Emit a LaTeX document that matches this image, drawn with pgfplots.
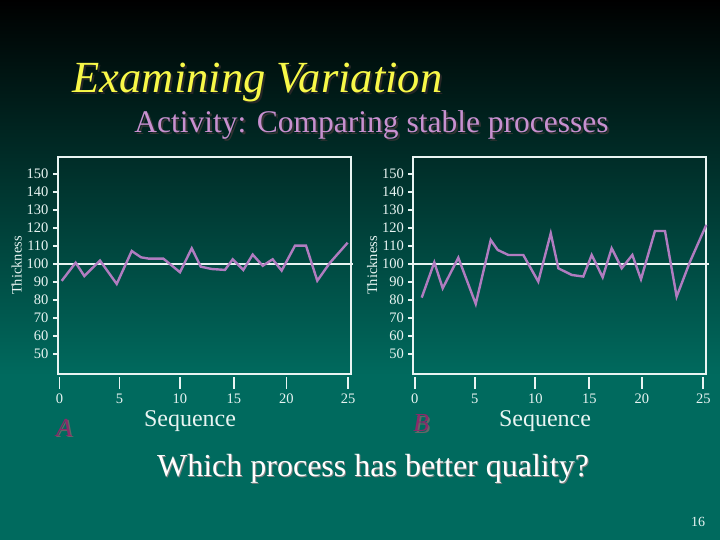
\documentclass[border=0pt]{standalone}
\usepackage{pgfplots}
\pgfplotsset{compat=1.18}
\usepackage{fontspec}
\setmainfont{Liberation Serif}
\definecolor{bgteal}{HTML}{006A5E}
\definecolor{lineP}{HTML}{B07CC0}
\definecolor{subP}{HTML}{C890D0}
\definecolor{titleY}{HTML}{F8F848}
\definecolor{magA}{HTML}{8A2A6A}
\definecolor{boxW}{HTML}{E8F4F2}

\pgfplotstableread{
x y
0.19 90.6
1.40 100.7
2.15 93.3
3.51 101.9
4.96 88.9
6.26 107.2
7.06 103.7
7.70 103.0
8.99 103.0
10.44 95.4
11.46 108.7
12.24 98.5
13.19 97.2
14.34 96.7
15.01 102.6
15.93 96.7
16.74 105.2
17.61 99.0
18.47 102.6
19.25 96.3
20.41 110.2
21.36 110.2
22.34 90.7
23.44 100.7
24.97 111.8
}\dataA

\pgfplotstableread{
x y
0.60 81.3
1.69 100.9
2.42 86.5
3.77 103.5
5.28 77.8
6.58 113.3
7.18 107.8
8.10 105.0
9.40 105.0
10.70 90.2
11.78 117.0
12.44 97.6
13.60 93.9
14.60 93.0
15.33 105.0
16.28 92.6
17.06 108.7
17.93 97.6
18.85 105.0
19.60 91.5
20.81 118.3
21.68 118.3
22.69 81.9
23.85 101.3
25.26 121.7
}\dataB

\pgfplotsset{
  panelbase/.style={
    anchor=south west, width=293pt, height=217pt, scale only axis,
    xmin=-0.13, xmax=25.26, ymin=38.9, ymax=159.4,
    clip=false,
    /pgf/number format/assume math mode=true,
    ticklabel style={text=boxW, font=\fontsize{14.5}{14.5}\selectfont},
  },
  panel/.style={
    panelbase,
    at={(#1)},
    axis line style={draw=boxW, line width=2pt},
    xtick=\empty,
    ytick={50,60,...,150},
    tick pos=left, tick align=outside,
    major tick length=5pt,
    ytick style={draw=boxW, line width=1.8pt},
    yticklabel style={xshift=-1pt},
    ylabel={Thickness},
    ylabel style={text=boxW, font=\fontsize{14.5}{14.5}\selectfont, yshift=-2pt},
  },
  xpanel/.style={
    panelbase,
    at={(#1)},
    hide y axis,
    axis x line*=bottom,
    x axis line style={draw=none},
    xtick={0,5.2,10.44,15.12,19.67,25},
    xticklabels={0,5,10,15,20,25},
    tick align=outside,
    major tick length=12pt,
    xtick style={draw=boxW, line width=1.8pt},
    xticklabel style={yshift=-1pt},
  },
}

\begin{document}
\begin{tikzpicture}[x=1pt,y=1pt]
\useasboundingbox (0,0) rectangle (720,540);
\fill[bgteal] (0,0) rectangle (720,540);
\shade[top color=black, bottom color=bgteal] (0,165) rectangle (720,540);
\coordinate (pA) at (58,166);
\coordinate (xA) at (58,163);
\coordinate (pB) at (413.3,166);
\coordinate (xB) at (413.3,163);

% titles
\node[text=black!85, anchor=center, font=\fontsize{44.5}{44.5}\selectfont\itshape] at (259.5,455) {Examining Variation};
\node[text=titleY, anchor=center, font=\fontsize{44.5}{44.5}\selectfont\itshape] at (257.5,457) {Examining Variation};
\node[text=black!80, anchor=center, font=\fontsize{31.5}{31.5}\selectfont] at (373.5,413) {Activity: Comparing stable processes};
\node[text=subP, anchor=center, font=\fontsize{31.5}{31.5}\selectfont] at (371.5,415) {Activity: Comparing stable processes};

% panel A
\begin{axis}[panel=pA]
\addplot[boxW, line width=2pt, forget plot] coordinates {(-0.13,100) (25.45,100)};
\addplot[lineP, line width=2.4pt, line join=miter] table[x=x,y=y] {\dataA};
\end{axis}
\begin{axis}[xpanel=xA]
\addplot[draw=none] coordinates {(0,100)};
\end{axis}

% panel B
\begin{axis}[panel=pB]
\addplot[boxW, line width=2pt, forget plot] coordinates {(-0.13,100) (25.45,100)};
\addplot[lineP, line width=2.4pt, line join=miter] table[x=x,y=y] {\dataB};
\end{axis}
\begin{axis}[xpanel=xB]
\addplot[draw=none] coordinates {(0,100)};
\end{axis}

% bottom texts
\node[text=boxW, font=\fontsize{24}{24}\selectfont] at (190,119) {Sequence};
\node[text=boxW, font=\fontsize{24}{24}\selectfont] at (545,119) {Sequence};
\node[text=black!60, font=\fontsize{26}{26}\selectfont\itshape] at (65.5,111) {A};
\node[text=magA, font=\fontsize{26}{26}\selectfont\itshape] at (64,112.5) {A};
\node[text=black!60, font=\fontsize{26}{26}\selectfont\itshape] at (422.5,115) {B};
\node[text=magA, font=\fontsize{26}{26}\selectfont\itshape] at (421,116.5) {B};
\node[text=black!50, font=\fontsize{32}{32}\selectfont] at (374,70) {Which process has better quality?};
\node[text=white, font=\fontsize{32}{32}\selectfont] at (373,71.5) {Which process has better quality?};
\node[text=boxW, font=\fontsize{14}{14}\selectfont] at (698,18) {16};
\end{tikzpicture}
\end{document}
